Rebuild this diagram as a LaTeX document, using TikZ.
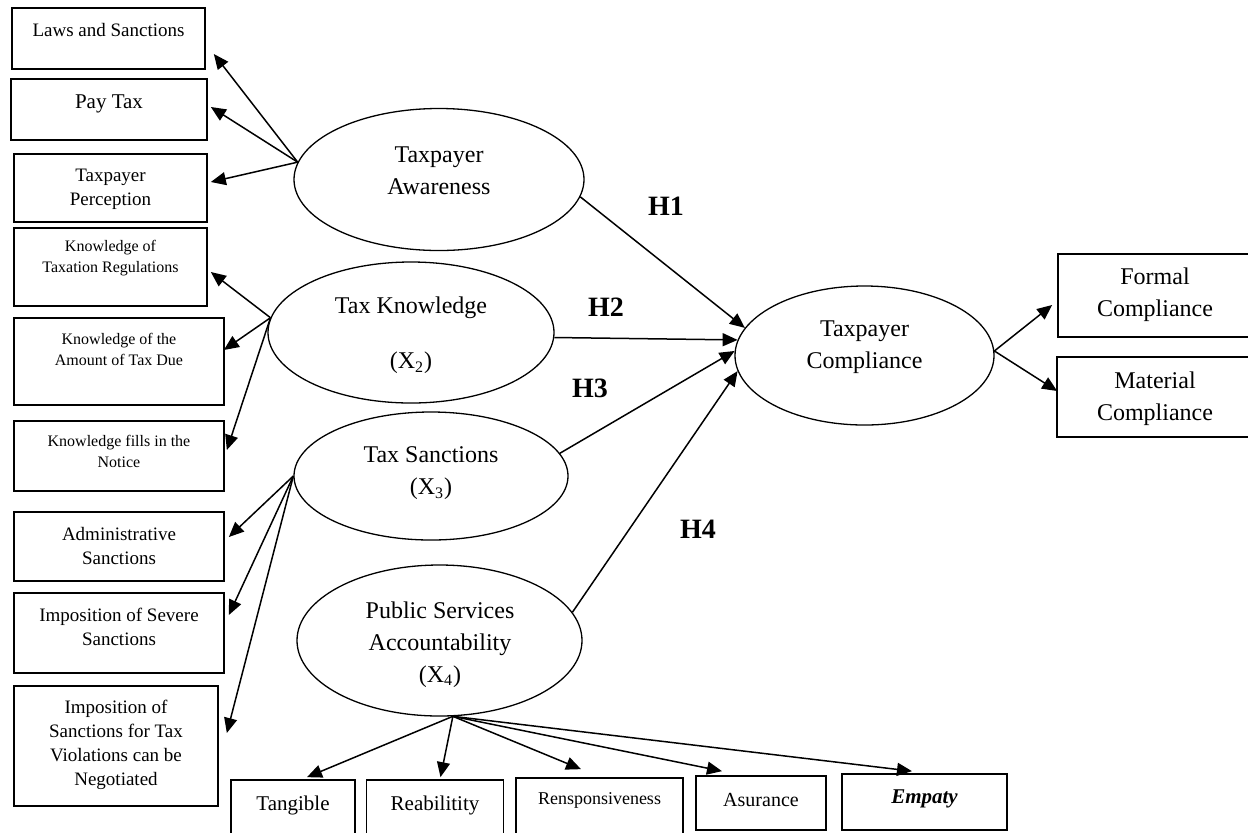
\documentclass[tikz,border=0pt]{standalone}
\usepackage{fontspec}
\setmainfont{Liberation Serif}
\usetikzlibrary{shapes.geometric,arrows.meta}

\begin{document}
\begin{tikzpicture}[x=0.5pt,y=-0.5pt,
  sz/.style 2 args={minimum width=#1*0.5pt,minimum height=#2*0.5pt},
  box/.style={draw,line width=0.85pt,inner sep=0pt},
  latent/.style={draw,ellipse,line width=0.65pt,inner sep=0pt},
  txt/.style={align=center,inner sep=0pt,font=\fontsize{9.5}{12}\selectfont},
  small/.style={align=center,inner sep=0pt,font=\fontsize{8}{10.5}\selectfont},
  big/.style={align=center,inner sep=0pt,font=\fontsize{12}{16}\selectfont},
  hyp/.style={inner sep=0pt,font=\fontsize{14}{16}\selectfont\bfseries},
  arr/.style={line width=0.75pt,-{Triangle[length=7.5pt,width=6.5pt]}}]
\useasboundingbox (0,0) rectangle (1248,832);
% the indicator boxes on the left
\node[box,sz={193}{61}] (laws) at (108.5,38.5) {};
\node[box,sz={196}{61}] (pay) at (109,109.5) {};
\node[box,sz={193}{68}] (perc) at (110.5,188) {};
\node[box,sz={193}{78}] (regs) at (110.5,267) {};
\node[box,sz={210}{87}] (due) at (119,361.5) {};
\node[box,sz={210}{70}] (notice) at (119,456) {};
\node[box,sz={210}{69}] (admin) at (119,546.5) {};
\node[box,sz={210}{80}] (severe) at (119,633) {};
\node[box,sz={204}{120}] (nego) at (116,746) {};
\node[txt] (lawsT) at (108.5,30) {Laws and Sanctions};
\node[txt,font=\fontsize{10.5}{12}\selectfont] (payT) at (109,104) {Pay Tax};
\node[txt] (percT) at (110.5,189) {Taxpayer\\Perception};
\node[small] (regsT) at (110.5,258.5) {Knowledge of\\Taxation Regulations};
\node[small] (dueT) at (119,349.5) {Knowledge of the\\Amount of Tax Due};
\node[small] (noticeT) at (119,451.5) {Knowledge fills in the\\Notice};
\node[txt] (adminT) at (119,546) {Administrative\\Sanctions};
\node[txt] (severeT) at (119,627) {Imposition of Severe\\Sanctions};
\node[txt] (negoT) at (116,744.5) {Imposition of\\Sanctions for Tax\\Violations can be\\Negotiated};
% the indicator boxes at the bottom
\node[box,sz={124}{56}] (tang) at (293,808) {};
\node[box,sz={137}{56}] (reab) at (435,808) {};
\node[box,sz={167}{58}] (resp) at (599.5,807) {};
\node[box,sz={130}{54}] (asur) at (761,803) {};
\node[box,sz={165}{56}] (emp) at (924.5,802) {};
\node[txt,font=\fontsize{10.5}{12}\selectfont] (tangT) at (293,805) {Tangible};
\node[txt,font=\fontsize{10.5}{12}\selectfont] (reabT) at (435,805) {Reabilitity};
\node[txt,font=\fontsize{9}{12}\selectfont] (respT) at (599.5,800) {Rensponsiveness};
\node[txt,font=\fontsize{10}{12}\selectfont] (asurT) at (761,800) {Asurance};
\node[txt,font=\fontsize{10.5}{12}\selectfont\bfseries\itshape] (empT) at (924.5,799) {Empaty};
% the indicator boxes on the right
\node[box,sz={194}{83}] (formal) at (1155,295.5) {};
\node[box,sz={196}{80}] (material) at (1155,397) {};
\node[big] (formalT) at (1155,295) {Formal\\Compliance};
\node[big] (materialT) at (1155,398.5) {Material\\Compliance};
% the latent variables
\node[latent,sz={290}{142}] (aw) at (439,179.5) {};
\node[latent,sz={286}{141}] (tk) at (411,332.5) {};
\node[latent,sz={274}{128}] (ts) at (431,476) {};
\node[latent,sz={285}{151}] (ps) at (439.5,640.5) {};
\node[latent,sz={259}{139}] (tc) at (864.5,355.5) {};
\node[big] (awT) at (439,171) {Taxpayer\\Awareness};
\node[big] (tkT) at (411,335.5) {Tax Knowledge\\[11.5pt](X\textsubscript{2})};
\node[big] (tsT) at (431,473.5) {Tax Sanctions\\(X\textsubscript{3})};
\node[big] (psT) at (440,644.5) {Public Services\\Accountability\\(X\textsubscript{4})};
\node[big] (tcT) at (864.5,347.5) {Taxpayer\\Compliance};
% where the arrows leave the ellipses
\coordinate (awL) at (aw.173);
\coordinate (tkL) at (tk.174);
\coordinate (tsL) at (ts.west);
\coordinate (psB) at (ps.-80);
\coordinate (tcR) at (tc.2);
% the loadings
\foreach \b/\dx/\dy in {laws/8/15.5,pay/3/-2.5,perc/3/-6}
  \draw[arr] (awL) -- ([shift={(\dx,\dy)}]\b.east);
\foreach \b/\dx/\dy in {regs/3/5,due/-1/-11.5,notice/2/-6}
  \draw[arr] (tkL) -- ([shift={(\dx,\dy)}]\b.east);
\foreach \b/\dx/\dy in {admin/4/-9.5,severe/4/-18,nego/8/-13}
  \draw[arr] (tsL) -- ([shift={(\dx,\dy)}]\b.east);
\foreach \b/\dx/\dy in {tang/14/-2,reab/5.5/-2,resp/-18.5/-8,asur/-39/-4,emp/-12.5/-2}
  \draw[arr] (psB) -- ([shift={(\dx,\dy)}]\b.north);
\draw[arr] (tcR) -- ([shift={(-5,9.5)}]formal.west);
\draw[arr] (tcR) -- ([shift={(1,-6)}]material.west);
% the hypotheses
\draw[arr] (aw.-7) -- (tc.167);
\draw[arr] (tk.-2) -- (tc.173);
\draw[arr] (ts.10) -- (tc.178);
\draw[arr] (ps.12) -- (tc.187);
\node[hyp] (h1) at (666,206) {H1};
\node[hyp] (h2) at (606,307) {H2};
\node[hyp] (h3) at (590,388) {H3};
\node[hyp] (h4) at (698,529) {H4};
\end{tikzpicture}
\end{document}
